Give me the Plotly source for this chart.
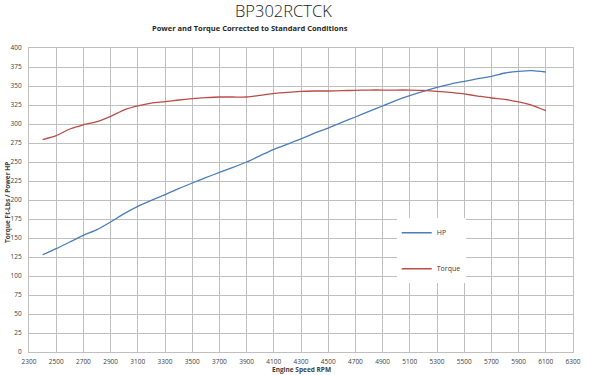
import plotly.graph_objects as go

rpm = [2400, 2500, 2600, 2700, 2800, 2900, 3000, 3100, 3200, 3300, 3400, 3500, 3600, 3700,
       3800, 3900, 4000, 4100, 4200, 4300, 4400, 4500, 4600, 4700, 4800, 4900, 5000, 5100,
       5200, 5300, 5400, 5500, 5600, 5700, 5800, 5900, 6000, 6100]
hp = [128, 136, 144.7, 153.5, 161, 171, 182, 191.7, 199.6, 207, 215, 222.4, 229.4, 236.4,
      243, 250, 258.3, 266.7, 273.5, 280.3, 288, 294.7, 302.2, 309.2, 316.7, 323.7, 331.1, 337.3,
      343, 348.2, 352.6, 356.1, 359.6, 362.7, 367.1, 369.3, 370.2, 368.4]
torque = [279.4, 284.6, 293.4, 299, 303, 310, 318.7, 324, 327.6, 329.4, 331.6, 333.3, 334.6, 335.5,
          335.5, 335.5, 337.7, 340.4, 341.7, 343, 343.4, 343.4, 343.9, 344.3, 344.7, 344.7, 344.7, 344.7,
          344.3, 343, 341.7, 339.5, 336.8, 334.2, 332.5, 329, 324.6, 317.5]

x_ticks = list(range(2300, 6301, 200))
y_ticks = list(range(0, 401, 25))

title_text = "BP302RCTCK"
subtitle_text = "Power and Torque Corrected to Standard Conditions"
x_title = "Engine Speed RPM"
y_title = "Torque Ft-Lbs / Power HP"

fig = go.Figure()
fig.add_trace(go.Scatter(x=rpm, y=hp, mode="lines", name="HP", legendgroup="hp",
                         line=dict(color="#4a7ebb", width=1.3, shape="spline", smoothing=0.6)))
fig.add_trace(go.Scatter(x=rpm, y=torque, mode="lines", name="Torque", legendgroup="tq",
                         line=dict(color="#be4b48", width=1.3, shape="spline", smoothing=0.6)))

font_main = "Open Sans, Liberation Sans, sans-serif"

fig.update_layout(
    width=589, height=375,
    margin=dict(l=29, r=16, t=48, b=23, autoexpand=False),
    paper_bgcolor="white", plot_bgcolor="white",
    font=dict(family=font_main, size=7, color="#404040"),
    showlegend=True,
    legend=dict(x=0.676, y=0.44, xanchor="left", yanchor="top",
                bgcolor="white", borderwidth=0, tracegroupgap=17,
                font=dict(size=7, color="#404040"), itemwidth=30),
    xaxis=dict(range=[2300, 6300], tickvals=x_ticks, ticktext=[str(v) for v in x_ticks],
               showgrid=True, gridcolor="#bfbfbf", gridwidth=1, zeroline=False,
               showline=True, linecolor="#bfbfbf", mirror=True, ticks="", automargin=False,
               tickfont=dict(size=6.5, color="#404040"), ticklabelstandoff=3),
    yaxis=dict(range=[0, 400], tickvals=y_ticks, ticktext=[str(v) for v in y_ticks],
               showgrid=True, gridcolor="#bfbfbf", gridwidth=1, zeroline=False,
               showline=True, linecolor="#bfbfbf", mirror=True, ticks="", automargin=False,
               tickfont=dict(size=6.5, color="#404040"), ticklabelstandoff=5),
    annotations=[
        dict(text=title_text, xref="paper", yref="paper", x=0.468, y=1.0, yshift=37.5,
             xanchor="center", yanchor="middle", showarrow=False,
             font=dict(family=font_main, size=16.5, color="#222222", weight=300)),
        dict(text="<b>" + subtitle_text + "</b>", xref="paper", yref="paper", x=0.406, y=1.0, yshift=20.5,
             xanchor="center", yanchor="middle", showarrow=False,
             font=dict(family=font_main, size=7.5, color="#262626")),
        dict(text="<b>" + x_title + "</b>", xref="paper", yref="paper", x=0.5, y=0.0, yshift=-17,
             xanchor="center", yanchor="middle", showarrow=False,
             font=dict(family=font_main, size=6.5, color="#404040")),
        dict(text="<b>" + y_title + "</b>", xref="paper", yref="paper", x=0.0, y=0.49, xshift=-22,
             xanchor="center", yanchor="middle", showarrow=False, textangle=-90,
             font=dict(family=font_main, size=6.5, color="#404040")),
    ],
)

fig.write_html("out.html", config={"displayModeBar": False},
               post_script="document.body.style.margin='0';document.body.style.padding='0';")
